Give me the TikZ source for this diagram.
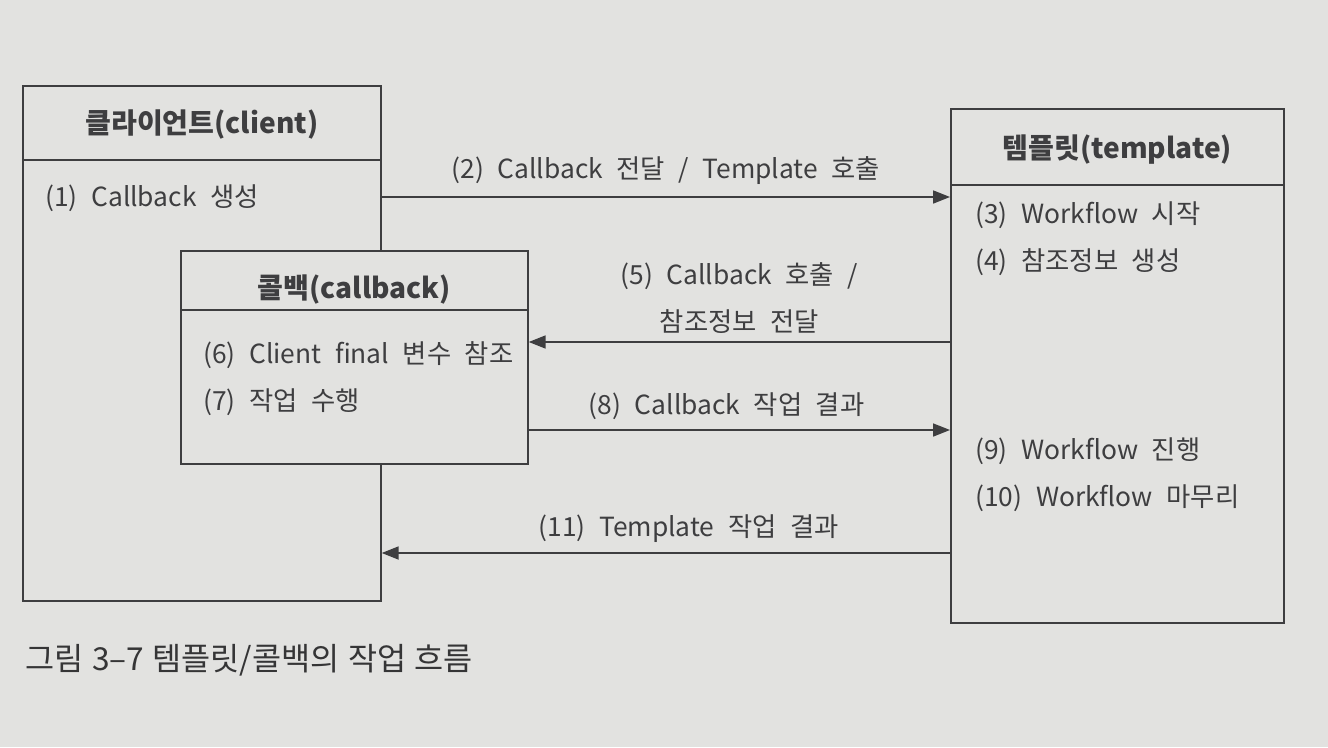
\documentclass[tikz,border=0pt]{standalone}
\usepackage{fontspec}
\setmainfont[WordSpace=2.3]{Noto Sans CJK KR}
\newfontfamily\captionfont[WordSpace=1.2]{Noto Sans CJK KR}
\usetikzlibrary{arrows.meta, positioning, calc}
\definecolor{paper}{RGB}{226,226,224}
\definecolor{ink}{RGB}{62,62,64}

\begin{document}
\begin{tikzpicture}[
    x=0.02cm, y=-0.02cm,
    role_box/.style={rectangle, draw=ink, fill=paper, line width=1pt, anchor=north west, inner sep=0pt},
    role_title/.style={font=\fontsize{16}{19}\selectfont\bfseries, text=ink},
    step_text/.style={font=\fontsize{15}{18}\selectfont, text=ink, anchor=west, inner sep=0pt},
    msg_flow/.style={-{Triangle[length=3.4mm, width=2.6mm]}, draw=ink, line width=1pt},
    msg_label/.style={font=\fontsize{15}{18}\selectfont, text=ink, align=center}
]
    % Page
    \fill[paper] (0,0) rectangle (1328,747);
    \useasboundingbox (0,0) rectangle (1328,747);

    % Client
    \node[role_box, minimum width=7.16cm, minimum height=10.3cm] (client) at (22,85) {};
    \draw[ink, line width=1pt] ($(client.north west)+(0,75)$) -- ($(client.north east)+(0,75)$);
    \node[role_title] (client_title) at ($(client.north)+(0,40)$) {클라이언트(client)};
    \node[step_text] (s1) at (45,198) {(1) Callback 생성};

    % Template
    \node[role_box, minimum width=6.66cm, minimum height=10.28cm] (template) at (950,108) {};
    \draw[ink, line width=1pt] ($(template.north west)+(0,77)$) -- ($(template.north east)+(0,77)$);
    \node[role_title] (template_title) at ($(template.north)+(0,42)$) {템플릿(template)};
    \node[step_text] (s3) at (975,215) {(3) Workflow 시작};
    \node[step_text] (s4) at (975,262) {(4) 참조정보 생성};
    \node[step_text] (s9) at (975,451) {(9) Workflow 진행};
    \node[step_text] (s10) at (975,498) {(10) Workflow 마무리};

    % Callback
    \node[role_box, minimum width=6.94cm, minimum height=4.26cm] (callback) at (180,250) {};
    \draw[ink, line width=1pt] ($(callback.north west)+(0,60)$) -- ($(callback.north east)+(0,60)$);
    \node[role_title] (callback_title) at ($(callback.north)+(0,40)$) {콜백(callback)};
    \node[step_text] (s6) at (203,355) {(6) Client final 변수 참조};
    \node[step_text] (s7) at (203,402) {(7) 작업 수행};

    % Messages
    \draw[msg_flow] (client.east |- 0,197) -- (template.west |- 0,197)
        node[msg_label, midway, above=3pt] (m2) {(2) Callback 전달 / Template 호출};
    \draw[msg_flow] (template.west |- 0,342) -- (callback.east |- 0,342)
        node[msg_label, midway, above=1pt] (m5) {(5) Callback 호출 /\\[9pt] 참조정보 전달};
    \draw[msg_flow] (callback.east |- 0,430) -- (template.west |- 0,430)
        node[msg_label, pos=0.47, above=2pt] (m8) {(8) Callback 작업 결과};
    \draw[msg_flow] (template.west |- 0,553) -- (client.east |- 0,553)
        node[msg_label, pos=0.46, above=2pt] (m11) {(11) Template 작업 결과};

    % Caption
    \node[font=\captionfont\fontsize{18}{22}\selectfont, text=ink!85!black, anchor=west, inner sep=0pt] (caption) at (25,660) {그림 3–7 템플릿/콜백의 작업 흐름};
\end{tikzpicture}
\end{document}
